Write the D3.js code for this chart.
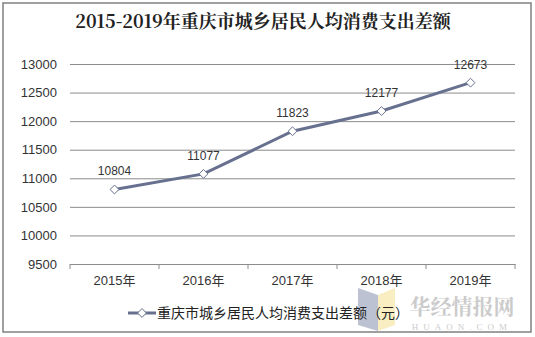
<!DOCTYPE html>
<html><head><meta charset="utf-8">
<script src="https://cdn.jsdelivr.net/npm/d3@7/dist/d3.min.js"></script>
<style>body{margin:0;background:#fff}svg{display:block}</style>
</head><body>
<script>
const titleText = "2015-2019年重庆市城乡居民人均消费支出差额";
const categories = ["2015年","2016年","2017年","2018年","2019年"];
const values = [10804, 11077, 11823, 12177, 12673];
const yTicks = [9500,10000,10500,11000,11500,12000,12500,13000];
const seriesName = "重庆市城乡居民人均消费支出差额（元）";

const W = 535, H = 337;
const m = {left:70, right:515, top:64, bottom:264};
const svg = d3.select("body").append("svg").attr("width",W).attr("height",H);
const font = "Arial, 'Liberation Sans', 'Noto Sans CJK SC', sans-serif";

svg.append("rect").attr("x",0).attr("y",0).attr("width",W).attr("height",H).attr("fill","#fff");
svg.append("rect").attr("x",3).attr("y",3).attr("width",528).attr("height",329)
  .attr("fill","none").attr("stroke","#808080").attr("stroke-width",1.5);

svg.append("text").attr("x",263).attr("y",28).attr("text-anchor","middle")
  .attr("font-family","'Noto Serif CJK SC','Noto Sans CJK SC',serif").attr("font-weight","bold")
  .attr("font-size",18).attr("fill","#222").text(titleText);

const x = d3.scaleBand().domain(categories).range([m.left,m.right]);
const y = d3.scaleLinear().domain([9500,13000]).range([m.bottom,m.top]);

const yAxis = d3.axisLeft(y).tickValues(yTicks).tickSize(-(m.right-m.left)).tickPadding(13).tickFormat(d3.format("d"));
const gy = svg.append("g").attr("transform",`translate(${m.left},0)`).call(yAxis);
gy.select(".domain").remove();
gy.selectAll(".tick line").attr("stroke","#8c8c8c").attr("stroke-width",1);
gy.selectAll(".tick text").attr("font-family",font).attr("font-size",13).attr("fill","#333");

const xAxis = d3.axisBottom(x).tickSize(0).tickPadding(12);
const gx = svg.append("g").attr("transform",`translate(0,${m.bottom})`).call(xAxis);
gx.select(".domain").attr("stroke","#8c8c8c");
gx.selectAll(".tick text").attr("font-family",font).attr("font-size",13).attr("fill","#333");
const bounds = categories.map(c=>x(c)).concat([x(categories[categories.length-1])+x.bandwidth()]);
svg.append("g").selectAll("line").data(bounds).join("line")
  .attr("x1",d=>d).attr("x2",d=>d).attr("y1",m.bottom).attr("y2",m.bottom+5)
  .attr("stroke","#8c8c8c");

const cx = c => x(c)+x.bandwidth()/2;
const line = d3.line().x((d,i)=>cx(categories[i])).y(d=>y(d));
svg.append("path").datum(values).attr("d",line).attr("fill","none")
  .attr("stroke","#67718f").attr("stroke-width",3);

const diamond = d3.symbol().type(d3.symbolDiamond2).size(50);
svg.append("g").selectAll("path").data(values).join("path")
  .attr("d",diamond).attr("transform",(d,i)=>`translate(${cx(categories[i])},${y(d)})`)
  .attr("fill","#fff").attr("stroke","#67718f").attr("stroke-width",1);

svg.append("g").selectAll("text").data(values).join("text")
  .attr("x",(d,i)=>cx(categories[i])).attr("y",d=>y(d)-14)
  .attr("text-anchor","middle").attr("font-family",font).attr("font-size",12).attr("fill","#333")
  .text(d=>d);

// watermark
const wm = svg.append("g").attr("opacity",0.5);
wm.append("path").attr("d","M358,288 L378,295 L378,331 L358,325 Z").attr("fill","#7d86a8");
wm.append("path").attr("d","M378,295 L395,288 L395,325 L378,331 Z").attr("fill","#f3de86");
wm.append("text").attr("x",462).attr("y",314).attr("text-anchor","middle")
  .attr("font-family","'Noto Serif CJK SC','Noto Sans CJK SC',serif").attr("font-weight","bold")
  .attr("font-size",21).attr("fill","#999").text("华经情报网");
wm.append("text").attr("x",462).attr("y",330).attr("text-anchor","middle")
  .attr("font-family","'Liberation Serif',serif").attr("font-size",9).attr("letter-spacing",5)
  .attr("fill","#999").text("HUAON.COM");

// legend
const lg = svg.append("g");
lg.append("line").attr("x1",128).attr("x2",156).attr("y1",313).attr("y2",313)
  .attr("stroke","#67718f").attr("stroke-width",3);
lg.append("path").attr("d",diamond).attr("transform","translate(142,313)")
  .attr("fill","#fff").attr("stroke","#67718f");
lg.append("text").attr("x",157).attr("y",318).attr("font-family","'Noto Sans CJK SC',sans-serif")
  .attr("font-size",14).attr("fill","#222").text(seriesName);
</script>
</body></html>
